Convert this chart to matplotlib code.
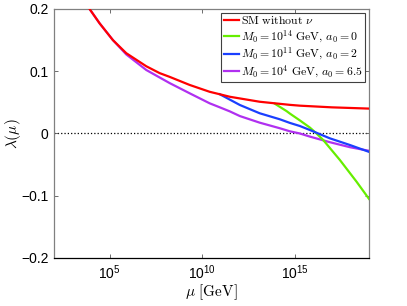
import numpy as np
import matplotlib
matplotlib.use("Agg")
import matplotlib.pyplot as plt
from matplotlib.ticker import FixedLocator, NullLocator

# --- DATA (log10 of mu in GeV, lambda) ---
red_logmu = [3.8, 3.92, 4.46, 5.18, 5.9, 6.98, 7.7, 8.24, 9.32, 10.4, 10.95, 11.49, 13.1, 14.73, 15.27, 17.0, 19.0]
red_lam = [0.206, 0.200, 0.177, 0.150, 0.129, 0.108, 0.097, 0.091, 0.078, 0.067, 0.0630, 0.059, 0.051, 0.046, 0.0447, 0.042, 0.0400]

green_logmu = [13.92, 14.55, 14.73, 15.27, 15.81, 16.17, 16.53, 17.43, 18.33, 19.0]
green_lam = [0.0478, 0.036, 0.032, 0.021, 0.0095, 0.0, -0.0105, -0.0426, -0.0775, -0.105]

blue_logmu = [10.95, 12.03, 13.1, 14.19, 14.73, 15.27, 15.81, 16.89, 17.97, 19.0]
blue_lam = [0.0630, 0.0458, 0.0325, 0.0228, 0.017, 0.012, 0.0056, -0.0078, -0.0185, -0.0295]

purple_logmu = [3.8, 3.92, 4.46, 5.18, 5.9, 6.98, 7.7, 8.24, 9.32, 10.4, 10.95, 11.49, 12.03, 13.1, 14.19, 14.73, 15.27, 15.81, 16.89, 17.97, 19.0]
purple_lam = [0.206, 0.200, 0.177, 0.150, 0.127, 0.102, 0.090, 0.081, 0.0646, 0.0485, 0.042, 0.0355, 0.028, 0.0174, 0.0084, 0.0035, 0.0, -0.005, -0.014, -0.022, -0.0278]

labels = [r'$\mathrm{SM\ without}\ \nu$',
          r'$M_0 = 10^{14}\ \mathrm{GeV},\, a_0 = 0$',
          r'$M_0 = 10^{11}\ \mathrm{GeV},\, a_0 = 2$',
          r'$M_0 = 10^{4}\ \mathrm{GeV},\, a_0 = 6.5$']

# --- STYLE ---
plt.rcParams['font.family'] = ['Liberation Sans', 'DejaVu Sans']
plt.rcParams['mathtext.fontset'] = 'cm'

fig = plt.figure(figsize=(4.07, 3.06), dpi=100)
ax = fig.add_axes([0.1327, 0.1569, 0.7739, 0.8137])

lw = 1.6
l1, = ax.plot(10.0 ** np.array(red_logmu), red_lam, color='#ff0000', lw=lw, zorder=5)
l2, = ax.plot(10.0 ** np.array(green_logmu), green_lam, color='#66ee00', lw=lw, zorder=3)
l3, = ax.plot(10.0 ** np.array(blue_logmu), blue_lam, color='#1a3fff', lw=lw, zorder=4)
l4, = ax.plot(10.0 ** np.array(purple_logmu), purple_lam, color='#b030f0', lw=lw, zorder=2)
ax.axhline(0, color='black', ls=':', lw=0.9, zorder=1)

ax.set_xscale('log')
ax.set_xlim(1e2, 1e19)
ax.set_ylim(-0.2, 0.2)
ax.xaxis.set_major_locator(FixedLocator([1e5, 1e10, 1e15]))
ax.xaxis.set_minor_locator(NullLocator())
ax.set_yticks([-0.2, -0.1, 0, 0.1, 0.2])
ax.set_yticklabels(['\u22120.2', '\u22120.1', '0', '0.1', '0.2'])
ax.set_xticklabels([r'$\mathregular{10^{5}}$', r'$\mathregular{10^{10}}$', r'$\mathregular{10^{15}}$'])
ax.tick_params(direction='in', top=True, right=True, labelsize=10, length=3, width=0.6, colors='#555555',
               labelcolor='black', pad=4)

for s in ['left', 'top', 'right']:
    ax.spines[s].set_color('#808080')
ax.spines['bottom'].set_color('black')
for s in ax.spines.values():
    s.set_linewidth(0.9)

ax.set_xlabel(r'$\mu\ [\mathrm{GeV}]$', fontsize=11, labelpad=0)
ax.set_ylabel(r'$\lambda(\mu)$', fontsize=11)
ax.yaxis.set_label_coords(-0.10, 0.5)

leg = ax.legend([l1, l2, l3, l4], labels, loc='upper right', fontsize=8.5,
                handlelength=1.3, handletextpad=0.2, borderpad=0.2, labelspacing=0.12,
                borderaxespad=0.3, fancybox=False, framealpha=1)
leg.get_frame().set_edgecolor('#404040')
leg.get_frame().set_linewidth(0.8)

fig.savefig('out.png', dpi=100)
